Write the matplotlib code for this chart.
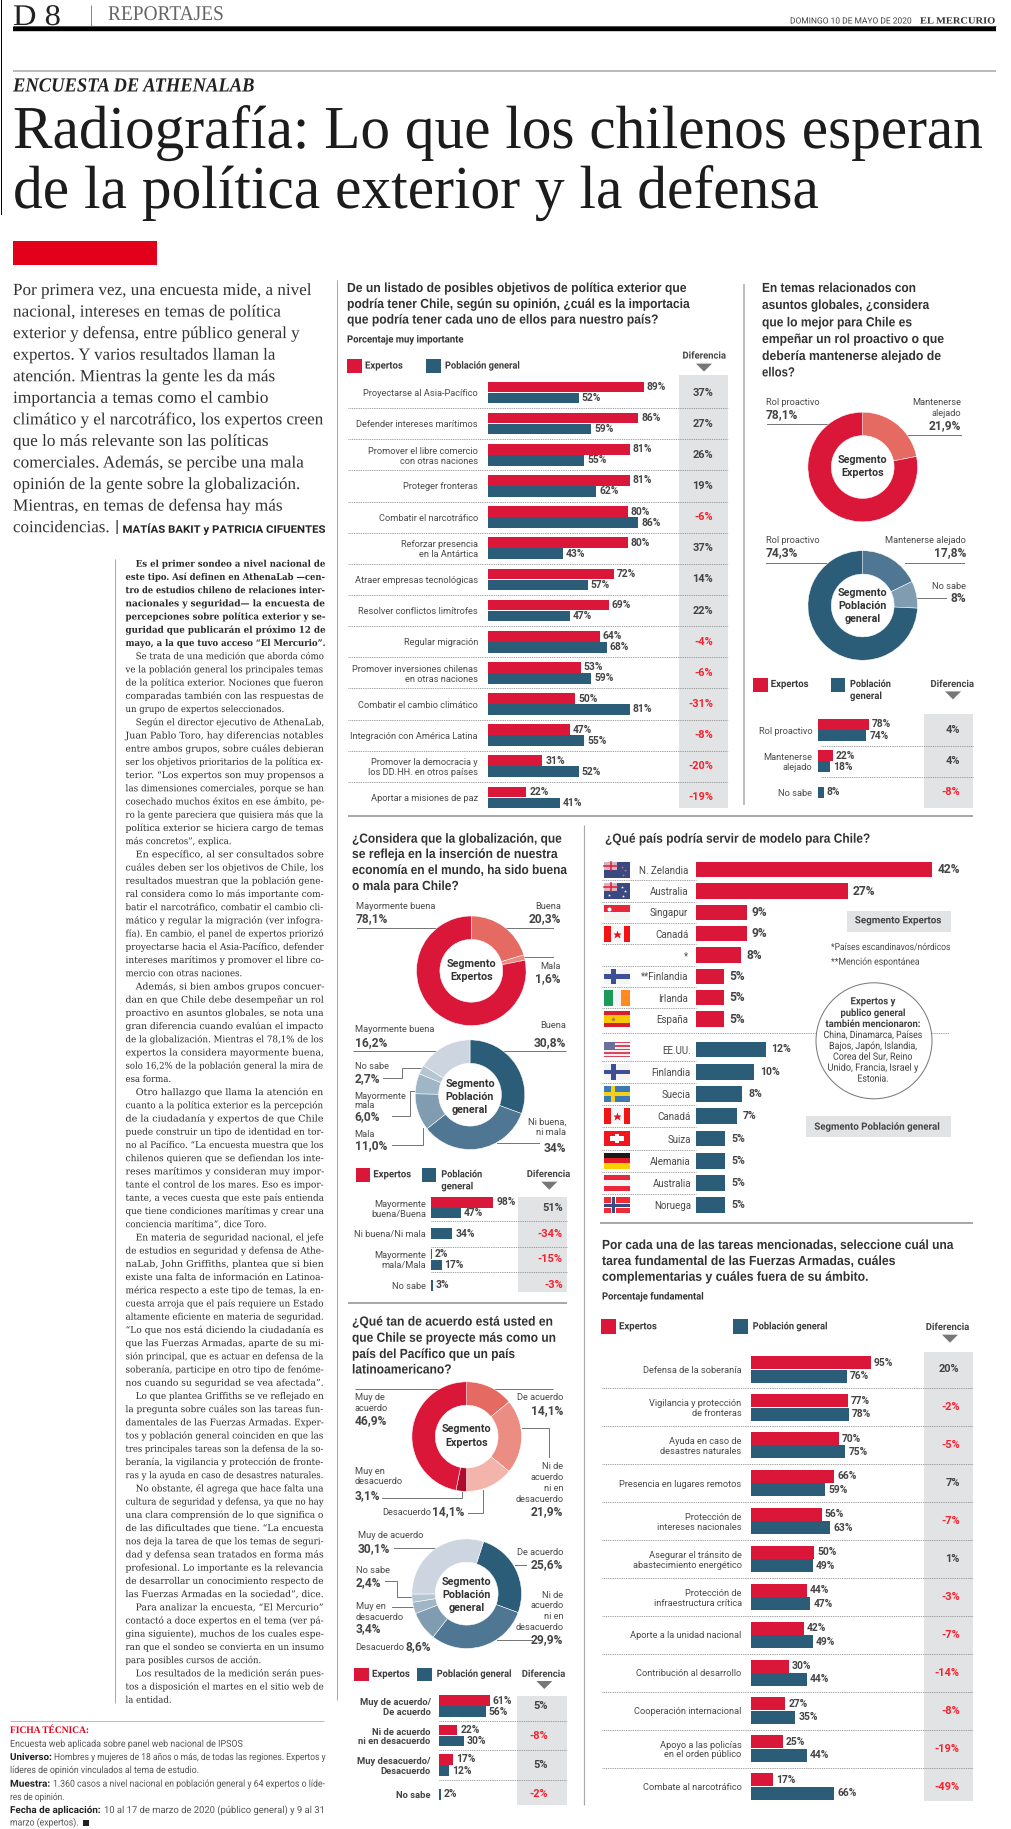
import numpy as np
import matplotlib
matplotlib.use("Agg")
import matplotlib.pyplot as plt
from matplotlib.patches import Rectangle, Polygon, Circle
from matplotlib.patheffects import AbstractPathEffect
from matplotlib.transforms import Affine2D

W, H = 1011, 1829
SANS = "Roboto"
SERIF = "Liberation Serif"
RED = "#db1739"
BLUE = "#2b5d78"
GREY = "#e1e3e5"
DIFF_RED = "#f5222f"
INK = "#3a3a3a"

# chart 1: objetivos de politica exterior
obj_labels = ["Proyectarse al Asia-Pacífico", "Defender intereses marítimos",
              "Promover el libre comercio\ncon otras naciones", "Proteger fronteras",
              "Combatir el narcotráfico", "Reforzar presencia\nen la Antártica",
              "Atraer empresas tecnológicas", "Resolver conflictos limítrofes",
              "Regular migración", "Promover inversiones chilenas\nen otras naciones",
              "Combatir el cambio climático", "Integración con América Latina",
              "Promover la democracia y\nlos DD.HH. en otros países", "Aportar a misiones de paz"]
obj_exp = [89, 86, 81, 81, 80, 80, 72, 69, 64, 53, 50, 47, 31, 22]
obj_pob = [52, 59, 55, 62, 86, 43, 57, 47, 68, 59, 81, 55, 52, 41]
obj_dif = [37, 27, 26, 19, -6, 37, 14, 22, -4, -6, -31, -8, -20, -19]

# chart 2: rol en asuntos globales
rol_labels = ["Rol proactivo", "Mantenerse\nalejado", "No sabe"]
rol_exp = [78, 22, None]
rol_pob = [74, 18, 8]
rol_dif = [4, 4, -8]
rol_pie_exp = [21.9, 78.1]
rol_pie_pob = [17.8, 8.0, 74.3]

# chart 3: globalizacion
glo_labels = ["Mayormente\nbuena/Buena", "Ni buena/Ni mala", "Mayormente\nmala/Mala", "No sabe"]
glo_exp = [98, None, 2, None]
glo_pob = [47, 34, 17, 3]
glo_dif = [51, -34, -15, -3]
glo_pie_exp = [20.3, 1.6, 78.1]
glo_pie_pob = [30.8, 34.0, 11.0, 6.0, 2.7, 16.2]

# chart 4: pais del Pacifico
pac_labels = ["Muy de acuerdo/\nDe acuerdo", "Ni de acuerdo\nni en desacuerdo",
              "Muy desacuerdo/\nDesacuerdo", "No sabe"]
pac_exp = [61, 22, 17, None]
pac_pob = [56, 30, 12, 2]
pac_dif = [5, -8, 5, -2]
pac_pie_exp = [14.1, 21.9, 14.1, 3.1, 46.9]
pac_pie_pob = [25.6, 29.9, 8.6, 3.4, 2.4, 30.1]

# chart 5: pais modelo
mod_exp_labels = ["N. Zelandia", "Australia", "Singapur", "Canadá", "*", "**Finlandia", "Irlanda", "España"]
mod_exp = [42, 27, 9, 9, 8, 5, 5, 5]
mod_exp_flags = ["nz", "au", "sg", "ca", None, "fi", "ie", "es"]
mod_pob_labels = ["EE.UU.", "Finlandia", "Suecia", "Canadá", "Suiza", "Alemania", "Australia", "Noruega"]
mod_pob = [12, 10, 8, 7, 5, 5, 5, 5]
mod_pob_flags = ["us", "fi", "se", "ca", "ch", "de", "at", "no"]

# chart 6: tareas de las FF.AA.
tar_labels = ["Defensa de la soberanía", "Vigilancia y protección\nde fronteras",
              "Ayuda en caso de\ndesastres naturales", "Presencia en lugares remotos",
              "Protección de\nintereses nacionales", "Asegurar el tránsito de\nabastecimiento energético",
              "Protección de\ninfraestructura crítica", "Aporte a la unidad nacional",
              "Contribución al desarrollo", "Cooperación internacional",
              "Apoyo a las policías\nen el orden público", "Combate al narcotráfico"]
tar_exp = [95, 77, 70, 66, 56, 50, 44, 42, 30, 27, 25, 17]
tar_pob = [76, 78, 75, 59, 63, 49, 47, 49, 44, 35, 44, 66]
tar_dif = [20, -2, -5, 7, -7, 1, -3, -7, -14, -8, -19, -49]

lead_lines = [("Por primera vez, una encuesta mide, a nivel", 313),
              ("nacional, intereses en temas de política", 282),
              ("exterior y defensa, entre público general y", 301),
              ("expertos. Y varios resultados llaman la", 276),
              ("atención. Mientras la gente les da más", 276),
              ("importancia a temas como el cambio", 269),
              ("climático y el narcotráfico, los expertos creen", 324),
              ("que lo más relevante son las políticas", 269),
              ("comerciales. Además, se percibe una mala", 305),
              ("opinión de la gente sobre la globalización.", 301),
              ("Mientras, en temas de defensa hay más", 284),
              ("coincidencias.", 110)]

body = [
    ["Es el primer sondeo a nivel nacional de", "este tipo. Así definen en AthenaLab —cen-",
     "tro de estudios chileno de relaciones inter-", "nacionales y seguridad— la encuesta de",
     "percepciones sobre política exterior y se-", "guridad que publicarán el próximo 12 de",
     "mayo, a la que tuvo acceso “El Mercurio”."],
    ["Se trata de una medición que aborda cómo", "ve la población general los principales temas",
     "de la política exterior. Nociones que fueron", "comparadas también con las respuestas de",
     "un grupo de expertos seleccionados."],
    ["Según el director ejecutivo de AthenaLab,", "Juan Pablo Toro, hay diferencias notables",
     "entre ambos grupos, sobre cuáles debieran", "ser los objetivos prioritarios de la política ex-",
     "terior. “Los expertos son muy propensos a", "las dimensiones comerciales, porque se han",
     "cosechado muchos éxitos en ese ámbito, pe-", "ro la gente pareciera que quisiera más que la",
     "política exterior se hiciera cargo de temas", "más concretos”, explica."],
    ["En específico, al ser consultados sobre", "cuáles deben ser los objetivos de Chile, los",
     "resultados muestran que la población gene-", "ral considera como lo más importante com-",
     "batir el narcotráfico, combatir el cambio cli-", "mático y regular la migración (ver infogra-",
     "fía). En cambio, el panel de expertos priorizó", "proyectarse hacia el Asia-Pacífico, defender",
     "intereses marítimos y promover el libre co-", "mercio con otras naciones."],
    ["Además, si bien ambos grupos concuer-", "dan en que Chile debe desempeñar un rol",
     "proactivo en asuntos globales, se nota una", "gran diferencia cuando evalúan el impacto",
     "de la globalización. Mientras el 78,1% de los", "expertos la considera mayormente buena,",
     "solo 16,2% de la población general la mira de", "esa forma."],
    ["Otro hallazgo que llama la atención en", "cuanto a la política exterior es la percepción",
     "de la ciudadanía y expertos de que Chile", "puede construir un tipo de identidad en tor-",
     "no al Pacífico. “La encuesta muestra que los", "chilenos quieren que se defiendan los inte-",
     "reses marítimos y consideran muy impor-", "tante el control de los mares. Eso es impor-",
     "tante, a veces cuesta que este país entienda", "que tiene condiciones marítimas y crear una",
     "conciencia marítima”, dice Toro."],
    ["En materia de seguridad nacional, el jefe", "de estudios en seguridad y defensa de Athe-",
     "naLab, John Griffiths, plantea que si bien", "existe una falta de información en Latinoa-",
     "mérica respecto a este tipo de temas, la en-", "cuesta arroja que el país requiere un Estado",
     "altamente eficiente en materia de seguridad.", "“Lo que nos está diciendo la ciudadanía es",
     "que las Fuerzas Armadas, aparte de su mi-", "sión principal, que es actuar en defensa de la",
     "soberanía, participe en otro tipo de fenóme-", "nos cuando su seguridad se vea afectada”."],
    ["Lo que plantea Griffiths se ve reflejado en", "la pregunta sobre cuáles son las tareas fun-",
     "damentales de las Fuerzas Armadas. Exper-", "tos y población general coinciden en que las",
     "tres principales tareas son la defensa de la so-", "beranía, la vigilancia y protección de fronte-",
     "ras y la ayuda en caso de desastres naturales."],
    ["No obstante, él agrega que hace falta una", "cultura de seguridad y defensa, ya que no hay",
     "una clara comprensión de lo que significa o", "de las dificultades que tiene. “La encuesta",
     "nos deja la tarea de que los temas de seguri-", "dad y defensa sean tratados en forma más",
     "profesional. Lo importante es la relevancia", "de desarrollar un conocimiento respecto de",
     "las Fuerzas Armadas en la sociedad”, dice."],
    ["Para analizar la encuesta, “El Mercurio”", "contactó a doce expertos en el tema (ver pá-",
     "gina siguiente), muchos de los cuales espe-", "ran que el sondeo se convierta en un insumo",
     "para posibles cursos de acción."],
    ["Los resultados de la medición serán pues-", "tos a disposición el martes en el sitio web de",
     "la entidad."],
]


class Squeeze(AbstractPathEffect):
    # matplotlib has no condensed fonts here, so narrow the glyphs at draw time
    def __init__(self, sx):
        super().__init__()
        self.sx = sx

    def draw_path(self, renderer, gc, tpath, affine, rgbFace=None):
        renderer.draw_path(gc, tpath, Affine2D().scale(self.sx, 1) + affine, rgbFace)


# dpi 72: one point is one pixel, so all sizes below are pixels
fig = plt.figure(figsize=(W / 72, H / 72), dpi=72, facecolor="white")
renderer = fig.canvas.get_renderer()
page = fig.add_axes([0, 0, 1, 1], zorder=0)
page.set_xlim(0, W)
page.set_ylim(H, 0)
page.axis("off")


def put(x, y, s, size=10, family=SANS, weight="normal", color=INK, ha="left", width=None, maxw=None, style="normal", zorder=5):
    t = page.text(x, y, s, fontsize=size, family=family, weight=weight, color=color,
                  va="baseline", ha="left", style=style, zorder=zorder)
    w = t.get_window_extent(renderer).width
    if maxw is not None and w > maxw:
        width = maxw
    if width is not None:
        t.set_path_effects([Squeeze(width / w)])
        w = width
    if ha == "right":
        t.set_x(x - w)
    elif ha == "center":
        t.set_x(x - w / 2)
    return t


def rule(x0, x1, y, color="#a9a9a9", lw=2):
    page.plot([x0, x1], [y, y], color=color, lw=lw, solid_capstyle="butt", zorder=1)


def vrule(x, y0, y1, color="#a9a9a9", lw=1.5):
    page.plot([x, x], [y0, y1], color=color, lw=lw, solid_capstyle="butt", zorder=1)


def box(x0, x1, y0, y1, color, zorder=1):
    page.add_patch(Rectangle((x0, y0), x1 - x0, y1 - y0, facecolor=color, edgecolor="none", zorder=zorder))


def leader(xs, ys):
    page.plot(xs, ys, color="#777777", lw=1, solid_joinstyle="miter", zorder=1)


def heading(x, ys, lines, widths, size=13.2):
    for y, s, w in zip(ys, lines, widths):
        put(x, y, s, size=size, family="Liberation Sans", weight="bold", color="#333333", width=w)


def diferencia(cx, y, tx, ty):
    put(cx, y, "Diferencia", size=9.8, weight="bold", color="#444444", ha="center", width=43)
    page.add_patch(Polygon([(tx - 8, ty), (tx + 8, ty), (tx, ty + 8)], facecolor="#777777", edgecolor="none", zorder=2))


def legend(rx, bx, y0, y1, ex, px, base, pob="Población general", pob2=None):
    box(rx, rx + 14.5, y0, y1, RED)
    box(bx, bx + 14.5, y0, y1, BLUE)
    put(ex, base, "Expertos", size=10, weight="bold", width=38)
    put(px, base, pob, size=10, weight="bold", width=75 if pob2 is None else 41)
    if pob2:
        put(px, base + 12, pob2, size=10, weight="bold", width=32)


def chart_axes(left, right, top, bottom):
    ax = fig.add_axes([left / W, 1 - bottom / H, (right - left) / W, (bottom - top) / H], zorder=2)
    ax.patch.set_visible(False)
    for sp in ax.spines.values():
        sp.set_visible(False)
    ax.set_xticks([])
    ax.tick_params(axis="y", length=0)
    return ax


def paired_bars(labels, exp, pob, dif, x0, xend, c0, pitch, px, bar_h, lab_right, dif_right, sep_left,
                size=9.3, val_size=10.2, lab_weight="normal", lab_color="#4a4a4a", val_gap=3):
    n = len(labels)
    ax = chart_axes(x0, xend, c0 - pitch / 2, c0 + pitch * (n - 0.5))
    ax.set_xlim(0, (xend - x0) / px)
    ax.set_ylim(n - 0.5, -0.5)
    h = bar_h / pitch
    for i in range(n):
        pairs = [(exp[i], RED, -h / 2), (pob[i], BLUE, h / 2)]
        if exp[i] is None or pob[i] is None:
            pairs = [(v, c, 0) for v, c, _ in pairs if v is not None]
        for v, c, off in pairs:
            ax.barh(i + off, v, height=h * 0.97, color=c, edgecolor="none")
            ax.annotate(f"{v}%", (v, i + off), xytext=(val_gap, 0), textcoords="offset points", va="center",
                        fontsize=val_size, family=SANS, weight="bold", color="#444444")
        ax.text((dif_right - x0) / px, i, f"{dif[i]}%", ha="right", va="center", fontsize=val_size + 0.8,
                family=SANS, weight="bold", color=DIFF_RED if dif[i] < 0 else "#444444")
    ax.hlines(np.arange(n - 1) + 0.5, (sep_left - x0) / px, (xend - x0) / px, color="#8a8a8a", lw=0.9,
              linestyle=(0, (1, 1)), clip_on=False)
    ax.set_yticks(range(n), labels, fontsize=size, family=SANS, weight=lab_weight, color=lab_color, linespacing=1.12)
    ax.tick_params(axis="y", pad=x0 - lab_right)
    return ax


def single_bars(labels, vals, color, x0, xend, c0, pitch, px, bar_h, lab_right, sep_left, val_size, val_gap):
    n = len(labels)
    ax = chart_axes(x0, xend, c0 - pitch / 2, c0 + pitch * (n - 0.5))
    ax.set_xlim(0, (xend - x0) / px)
    ax.set_ylim(n - 0.5, -0.5)
    ax.barh(range(n), vals, height=bar_h / pitch, color=color, edgecolor="none")
    for i, v in enumerate(vals):
        ax.annotate(f"{v}%", (v, i), xytext=(val_gap, 0), textcoords="offset points", va="center",
                    fontsize=val_size, family=SANS, weight="bold", color="#444444")
    ax.hlines(np.arange(n - 1) + 0.5, (sep_left - x0) / px, 0, color="#8a8a8a", lw=0.9,
              linestyle=(0, (1, 1)), clip_on=False)
    ax.set_yticks(range(n), labels, fontsize=9.8, family=SANS, color="#4a4a4a")
    ax.tick_params(axis="y", pad=x0 - lab_right)
    return ax


def donut(cx, cy, values, colors, start=90, R=54.8, inner=31.4):
    m = R * 1.03
    ax = fig.add_axes([(cx - m) / W, 1 - (cy + m) / H, 2 * m / W, 2 * m / H], zorder=2)
    ax.pie(values, colors=colors, startangle=start, counterclock=False, radius=1,
           wedgeprops=dict(width=1 - inner / R, edgecolor="white", linewidth=0.5))
    ax.set_xlim(-1.03, 1.03)
    ax.set_ylim(-1.03, 1.03)
    return ax


def tag(x, ys, lines, ha="left", val_size=12):
    # stack of small label lines, the last one is the number
    for y, s in zip(ys[:-1], lines[:-1]):
        put(x, y, s, size=9.3, color="#4a4a4a", ha=ha)
    put(x, ys[-1], lines[-1], size=val_size, weight="bold", color="#444444", ha=ha)


def centre_text(cx, ys, lines):
    for y, s in zip(ys, lines):
        put(cx, y, s, size=10.8, weight="bold", color="#333333", ha="center", zorder=9).set_zorder(9)


# top of the page
page.plot([0.5, 0.5], [0, 214], color="black", lw=1, zorder=1)
put(13, 25, "D 8", size=30, family=SERIF, color="#222222", width=48)
vrule(91, 5, 26, color="#888888", lw=1)
put(108, 20, "REPORTAJES", size=21, family=SERIF, color="#666666", width=116)
put(790, 23.5, "DOMINGO 10 DE MAYO DE 2020", size=8.5, color="#444444", width=122)
put(920, 23.5, "EL MERCURIO", size=9.5, family=SERIF, weight="bold", color="#333333", width=76)
rule(13, 996, 25.7, color="#666666", lw=1)
rule(13, 996, 29.2, color="black", lw=4.4)
rule(13, 996, 70.7, color="#bbbbbb", lw=2)
put(13, 91.5, "ENCUESTA DE ATHENALAB", size=20, family=SERIF, weight="bold", style="italic", color="#222222", width=242)
put(13, 148, "Radiografía: Lo que los chilenos esperan", size=61, family=SERIF, color="#1c1c1c", width=970)
put(13, 208, "de la política exterior y la defensa", size=61, family=SERIF, color="#1c1c1c", width=806)
box(13, 157, 241.4, 265, "#e2001a")

for i, (s, end) in enumerate(lead_lines):
    put(13, 295 + 21.56 * i, s, size=17, family=SERIF, color="#333333", width=end - 13)
put(115, 532.5, "|", size=17, family=SANS, color="#333333")
put(122.5, 532.8, "MATÍAS BAKIT y PATRICIA CIFUENTES", size=10.5, weight="bold", color="#222222", width=203)

vrule(337, 280, 1700, lw=1)
vrule(115, 559, 1703, lw=1)

# body text, justified line by line
line_no = 0
for p, para in enumerate(body):
    for j, s in enumerate(para):
        x = 135.7 if j == 0 else 125.5
        col = 327 - x
        last = j == len(para) - 1
        t = put(x, 566.7 + 13.21 * line_no, s, size=9.2, family="DejaVu Serif", weight="bold" if p == 0 else "normal",
                color="#2a2a2a", width=None if last else col, maxw=col if last else None)
        if last and not t.get_path_effects():
            # short last lines keep the same narrow setting as the rest of the column
            t.set_path_effects([Squeeze(0.93)])
        line_no += 1

# ficha tecnica
rule(10, 324, 1720.6, color="#bbbbbb", lw=1)
put(10, 1733, "FICHA TÉCNICA:", size=10, family=SERIF, weight="bold", color="#e2001a", width=79)
put(10, 1746.8, "Encuesta web aplicada sobre panel web nacional de IPSOS", size=9.6, color="#555555", width=232)
put(10, 1760, "Universo:", size=9.6, weight="bold", color="#222222", width=42)
put(54, 1760, "Hombres y mujeres de 18 años o más, de todas las regiones. Expertos y", size=9.6, color="#555555", width=270)
put(10, 1773, "líderes de opinión vinculados al tema de estudio.", size=9.6, color="#555555", width=188)
put(10, 1786.7, "Muestra:", size=9.6, weight="bold", color="#222222", width=40.7)
put(53, 1786.7, "1.360 casos a nivel nacional en población general y 64 expertos o líde-", size=9.6, color="#555555", width=271)
put(10, 1800, "res de opinión.", size=9.6, color="#555555", width=54)
put(10, 1813, "Fecha de aplicación:", size=9.6, weight="bold", color="#222222", width=91)
put(104, 1813, "10 al 17 de marzo de 2020 (público general) y 9 al 31", size=9.6, color="#555555", width=220)
put(10, 1825.5, "marzo (expertos).", size=9.6, color="#555555", width=68)
box(83, 89, 1819.5, 1825.5, "#222222")

# chart 1
heading(347, [292, 308, 323.6],
        ["De un listado de posibles objetivos de política exterior que",
         "podría tener Chile, según su opinión, ¿cuál es la importacia",
         "que podría tener cada uno de ellos para nuestro país?"], [339, 343, 311])
put(347, 342.5, "Porcentaje muy importante", size=10, weight="bold", color="#333333", width=117)
legend(347, 426, 358.6, 373, 365, 445, 368.6)
diferencia(704, 358.6, 704, 363.6)
box(679.3, 728, 375, 808, GREY)
paired_bars(obj_labels, obj_exp, obj_pob, obj_dif, 488, 728, 392.5, 31.15, 1.748, 11, 478, 713.3, 348)
rule(348, 973, 815.7)
vrule(743.5, 284, 805)

# chart 2
heading(762, [292, 309, 326.4, 343, 360, 376.4],
        ["En temas relacionados con", "asuntos globales, ¿considera", "que lo mejor para Chile es",
         "empeñar un rol proactivo o que", "debería mantenerse alejado de", "ellos?"],
        [154, 167, 150, 182, 179, 33])
leader([767, 830], [424.3, 424.3])
leader([907, 961], [435, 435])
donut(862.7, 467, rol_pie_exp, ["#e46a62", RED])
centre_text(862.7, [463, 476.5], ["Segmento", "Expertos"])
tag(765.7, [405, 418], ["Rol proactivo", "78,1%"])
tag(961, [405, 416, 429.6], ["Mantenerse", "alejado", "21,9%"], ha="right")
leader([766, 830], [563, 563])
leader([905, 964], [563, 563])
leader([917, 946], [597.5, 597.5])
donut(862.7, 605.5, rol_pie_pob, ["#4f7793", "#7f9cb0", BLUE])
centre_text(862.7, [596, 609, 622], ["Segmento", "Población", "general"])
tag(766, [543, 556.4], ["Rol proactivo", "74,3%"])
tag(966, [543, 556.4], ["Mantenerse alejado", "17,8%"], ha="right")
tag(966, [588.6, 602], ["No sabe", "8%"], ha="right")
legend(753, 830.7, 678, 692, 770.7, 850, 687, pob="Población", pob2="general")
diferencia(952, 687, 953, 691.4)
box(924, 972.7, 714.3, 807.5, GREY)
paired_bars(rol_labels, rol_exp, rol_pob, rol_dif, 818.3, 972.7, 730, 31.2, 0.65, 11.3, 812.3, 960, 820.7)

# chart 3
heading(352, [842.7, 858, 874, 890],
        ["¿Considera que la globalización, que", "se refleja en la inserción de nuestra",
         "economía en el mundo, ha sido buena", "o mala para Chile?"], [210, 206, 215, 107])
leader([357, 437], [928, 928])
leader([503, 553], [928, 928])
leader([523, 553], [957.3, 957.3])
donut(471.3, 970.8, glo_pie_exp, ["#e46a62", "#eb8a82", RED])
centre_text(471.3, [967, 980.5], ["Segmento", "Expertos"])
tag(355.7, [908.7, 922.3], ["Mayormente buena", "78,1%"])
tag(560.7, [908.7, 922.3], ["Buena", "20,3%"], ha="right")
tag(560.7, [968.7, 981.7], ["Mala", "1,6%"], ha="right")
rule(353, 566, 1051, color="#777777", lw=1)
leader([383.3, 401.7, 401.7, 422.3], [1078.3, 1078.3, 1067.7, 1067.7])
leader([392.3, 410, 410, 416], [1116, 1116, 1090.7, 1090.7])
leader([392.3, 423.3, 423.3], [1145, 1145, 1127.7])
leader([496.7, 539.3], [1143.3, 1143.3])
donut(470, 1094.7, glo_pie_pob, [BLUE, "#4f7793", "#7f9cb0", "#a0b6c6", "#b5c6d3", "#cdd6e0"])
centre_text(470, [1087, 1100.5, 1113], ["Segmento", "Población", "general"])
tag(354.7, [1032, 1046], ["Mayormente buena", "16,2%"])
tag(566, [1028, 1046], ["Buena", "30,8%"], ha="right")
tag(354.7, [1069, 1082], ["No sabe", "2,7%"])
tag(354.7, [1098.7, 1108, 1120], ["Mayormente", "mala", "6,0%"])
tag(354.7, [1137.3, 1149.3], ["Mala", "11,0%"])
tag(566, [1124.7, 1135.3, 1151.7], ["Ni buena,", "ni mala", "34%"], ha="right")
legend(355.7, 421.7, 1167.7, 1182.3, 373.3, 441.3, 1177.3, pob="Población", pob2="general")
diferencia(548.3, 1177, 549.3, 1181.7)
box(518.3, 567.3, 1196.7, 1291.7, GREY)
paired_bars(glo_labels, glo_exp, glo_pob, glo_dif, 430.7, 567.3, 1207.7, 25.9, 0.64, 10.8, 426, 562.7, 431)
rule(348, 567, 1303)
vrule(583.7, 825, 1805, lw=1.2)

# chart 4
heading(352, [1325.6, 1341.8, 1358, 1373.5],
        ["¿Qué tan de acuerdo está usted en", "que Chile se proyecte más como un",
         "país del Pacífico que un país", "latinoamericano?"], [201, 204, 163, 100])
rule(354.7, 553.3, 1388.7, color="#777777", lw=1)
leader([521.7, 549.3, 549.3], [1427.5, 1427.5, 1457])
leader([382.3, 461.7, 461.7], [1497.7, 1497.7, 1491.6])
leader([467.7, 482.7, 482.7], [1512.5, 1512.5, 1489.6])
donut(466.7, 1436.6, pac_pie_exp, ["#e46a62", "#ec8d83", "#f3b5ab", "#ae0c2c", RED])
centre_text(466.7, [1432.5, 1445.5], ["Segmento", "Expertos"])
tag(354.7, [1400.5, 1411.3, 1424.2], ["Muy de", "acuerdo", "46,9%"])
tag(563.3, [1400.5, 1413.7], ["De acuerdo", "14,1%"], ha="right")
tag(563.3, [1469.4, 1480, 1491, 1501.8, 1515], ["Ni de", "acuerdo", "ni en", "desacuerdo", "21,9%"], ha="right")
tag(354.7, [1473.7, 1484.5, 1499], ["Muy en", "desacuerdo", "3,1%"])
put(382.7, 1515, "Desacuerdo", size=9.3, color="#4a4a4a")
put(431.7, 1515, "14,1%", size=12, weight="bold", color="#444444")
leader([394.3, 436.7], [1548, 1548])
leader([515, 526], [1564.8, 1564.8])
leader([385, 396.7, 396.7, 412], [1580.7, 1580.7, 1597.2, 1597.2])
leader([391.7, 412.7], [1607, 1607])
leader([497.3, 531.7], [1640, 1640])
donut(466.7, 1593.7, pac_pie_pob, [BLUE, "#4f7793", "#7f9cb0", "#a0b6c6", "#b5c6d3", "#cdd6e0"], start=72)
centre_text(466.7, [1585, 1598, 1611], ["Segmento", "Población", "general"])
tag(357.7, [1537.9, 1551.7], ["Muy de acuerdo", "30,1%"])
tag(563.3, [1554.7, 1568.6], ["De acuerdo", "25,6%"], ha="right")
tag(355.7, [1572.6, 1586], ["No sabe", "2,4%"])
tag(355.7, [1609.4, 1619.8, 1632.3], ["Muy en", "desacuerdo", "3,4%"])
put(355.7, 1650.2, "Desacuerdo", size=9.3, color="#4a4a4a")
put(405.7, 1650.2, "8,6%", size=12, weight="bold", color="#444444")
tag(563.3, [1597.6, 1608.4, 1619, 1630, 1643.5], ["Ni de", "acuerdo", "ni en", "desacuerdo", "29,9%"], ha="right")
legend(354.3, 417.3, 1667.7, 1681.2, 372, 436.7, 1676.9)
diferencia(543.3, 1676.9, 544.3, 1681)
box(517.3, 566.7, 1696.4, 1805.4, GREY)
paired_bars(pac_labels, pac_exp, pac_pob, pac_dif, 439, 566.7, 1706.2, 29.4, 0.835, 11, 430.7, 547.7, 439,
            size=9.4, lab_weight="bold", lab_color="#444444")


# flags for chart 5, drawn on the page axes
def flag(code, y, x=604, w=26, h=15.7):
    top = y - h / 2

    def bands(colors, vertical=False, shares=None):
        shares = shares or [1 / len(colors)] * len(colors)
        pos = 0
        for c, s in zip(colors, shares):
            if vertical:
                box(x + pos * w, x + (pos + s) * w, top, top + h, c, zorder=3)
            else:
                box(x, x + w, top + pos * h, top + (pos + s) * h, c, zorder=3)
            pos += s

    def cross(bg, fg, t, inner=None, t2=0):
        box(x, x + w, top, top + h, bg, zorder=3)
        for c, th, z in [(fg, t, 3), (inner, t2, 4)]:
            if c is None:
                continue
            box(x + 0.36 * w - th / 2, x + 0.36 * w + th / 2, top, top + h, c, zorder=z)
            box(x, x + w, y - th / 2, y + th / 2, c, zorder=z)

    if code in ("nz", "au"):
        box(x, x + w, top, top + h, "#3a4a80", zorder=3)
        box(x, x + w / 2, top, y, "#d9b3c0", zorder=3)
        page.plot([x, x + w / 2], [top + h / 4] * 2, color="#e0233f", lw=1.6, zorder=4)
        page.plot([x + w / 4] * 2, [top, y], color="#e0233f", lw=1.6, zorder=4)
        sx = [0.2, 0.68, 0.8, 0.72] if code == "au" else [0.68, 0.8, 0.72]
        sy = [0.75, 0.25, 0.5, 0.82] if code == "au" else [0.3, 0.5, 0.8]
        page.plot([x + a * w for a in sx], [top + b * h for b in sy], ls="none", marker="*", ms=3,
                  mfc="white" if code == "au" else "#d96a80", mec="none", zorder=4)
    elif code == "sg":
        bands(["#e8273a", "#f4f4f4"])
        page.plot([x + 5], [top + 4], marker="o", ms=4, mfc="white", mec="none", zorder=4)
    elif code == "ca":
        bands(["#f01414", "#f7f7f7", "#f01414"], vertical=True, shares=[0.25, 0.5, 0.25])
        page.plot([x + w / 2], [y], marker="*", ms=9, mfc="#e01020", mec="none", zorder=4)
    elif code == "fi":
        cross("#f4f4f4", "#3f4f94", 4.5)
    elif code == "se":
        cross("#3c7ab3", "#f5cf1a", 4)
    elif code == "no":
        cross("#ef2b36", "#f7f7f7", 5, "#3a4a80", 2.4)
    elif code == "ie":
        bands(["#1c9a5a", "#f4f4f4", "#ff8a1f"], vertical=True)
    elif code == "es":
        bands(["#d91f2e", "#f6c800", "#d91f2e"], shares=[0.25, 0.5, 0.25])
        page.plot([x + w / 3], [y], marker="o", ms=3.5, mfc="#c87a3a", mec="none", zorder=4)
    elif code == "us":
        bands(["#d9475f", "#f6eef0"] * 4 + ["#d9475f"])
        box(x, x + w * 0.42, top, top + h * 0.55, "#6a7099", zorder=4)
    elif code == "ch":
        box(x, x + w, top, top + h, "#f2151f", zorder=3)
        box(x + w / 2 - 2.3, x + w / 2 + 2.3, top + 3, top + h - 3, "white", zorder=4)
        box(x + w / 2 - 7, x + w / 2 + 7, y - 2.3, y + 2.3, "white", zorder=4)
    elif code == "de":
        bands(["#1a1a1a", "#e01b24", "#fbd000"])
    elif code == "at":
        bands(["#e8273a", "#f4f4f4", "#e8273a"])


# chart 5
heading(605, [842.7], ["¿Qué país podría servir de modelo para Chile?"], [265])
single_bars(mod_exp_labels, mod_exp, RED, 696, 951, 869.8, 21.33, 5.627, 15.3, 688.3, 602, 12, 5)
single_bars(mod_pob_labels, mod_pob, BLUE, 696, 951, 1049.5, 22.26, 5.8, 15.8, 691, 602, 10.5, 6)
for i, code in enumerate(mod_exp_flags):
    if code:
        flag(code, 869.8 + 21.33 * i)
for i, code in enumerate(mod_pob_flags):
    flag(code, 1049.5 + 22.26 * i)
page.plot([602, 949], [1033.3, 1033.3], color="#8a8a8a", lw=0.9, linestyle=(0, (1, 1)), zorder=1)
box(846.7, 951, 911, 931.7, GREY)
put(898.3, 923.3, "Segmento Expertos", size=10, weight="bold", color="#444444", ha="center", width=87)
put(831, 950, "*Países escandinavos/nórdicos", size=9.6, color="#4a4a4a", width=119)
put(831, 964.7, "**Mención espontánea", size=9.6, color="#4a4a4a", width=88)
page.add_patch(Circle((874, 1040.8), 58, facecolor="white", edgecolor="#777777", lw=1, zorder=2))
circle_lines = ["Expertos y", "publico general", "también mencionaron:", "China, Dinamarca, Países",
                "Bajos, Japón, Islandia,", "Corea del Sur, Reino", "Unido, Francia, Israel y", "Estonia."]
circle_y = [1004.3, 1016, 1027, 1038, 1049, 1059.7, 1070.7, 1081.7]
circle_w = [45, 65, 95, 99, 88, 80, 91, 31]
for i, (s, y) in enumerate(zip(circle_lines, circle_y)):
    put(873, y, s, size=10, weight="bold" if i < 3 else "normal", color="#3f3f3f", ha="center", width=circle_w[i])
box(806, 951, 1116, 1136.7, GREY)
put(877.3, 1129.7, "Segmento Población general", size=10, weight="bold", color="#444444", ha="center", width=126)
rule(600, 973, 1223.3)

# chart 6
heading(602, [1249, 1265, 1280.8],
        ["Por cada una de las tareas mencionadas, seleccione cuál una",
         "tarea fundamental de las Fuerzas Armadas, cuáles",
         "complementarias y cuáles fuera de su ámbito."], [352, 294, 267])
put(602, 1299.5, "Porcentaje fundamental", size=10, weight="bold", color="#333333", width=102)
legend(601.3, 733.3, 1319.4, 1334, 619, 752.7, 1329.3)
diferencia(947.3, 1330, 950, 1334.7)
box(924, 972.7, 1351.5, 1801, GREY)
paired_bars(tar_labels, tar_exp, tar_pob, tar_dif, 751.3, 972.7, 1369.4, 37.92, 1.255, 13.4, 741.7, 959.7, 602)

fig.savefig("out.png", dpi=72, facecolor="white")
